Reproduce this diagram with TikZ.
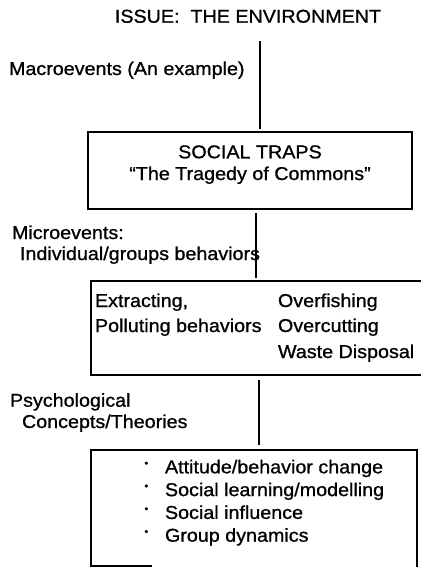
\documentclass[tikz,border=0pt]{standalone}
\usepackage{fontspec}
\setmainfont{Liberation Sans}[FakeStretch=1.06,FakeBold=0.9]
\newcommand\mybul{\makebox[20.5pt][l]{\raisebox{6.8pt}{\fontsize{10}{10}\selectfont •}}}
\begin{document}
\begin{tikzpicture}[x=1pt,y=-1pt,
  txt/.style={inner sep=0pt, outer sep=0pt, anchor=base west, font=\fontsize{18.6}{22}\selectfont},
  ctxt/.style={txt, anchor=base},
  boxn/.style={draw, line width=1.1pt, inner sep=0pt, outer sep=0pt, anchor=north west},
  conn/.style={line width=1.3pt}]
\useasboundingbox (0,0) rectangle (420,567);
\fill[white] (0,0) rectangle (420,567);

% boxes
\node[boxn, minimum width=324pt, minimum height=77pt] (box1) at (88,132) {};
\node[boxn, minimum width=334pt, minimum height=94pt] (box2) at (91,281) {};
\node[boxn, minimum width=326pt, minimum height=125pt] (box3) at (91,450) {};
\coordinate (cut) at (152,566);
\draw[line width=1.1pt] (box3.west |- cut) -- (cut);

% texts
\node[ctxt] (title) at (248,22.7) {ISSUE:\ \ THE ENVIRONMENT};
\node[txt] (macro) at (9,75) {Macroevents (An example)};
\node[ctxt] (traps) at (250,158.3) {SOCIAL TRAPS};
\node[ctxt] (tragedy) at (250,180) {“The Tragedy of Commons”};
\node[txt] (micro) at (12,239) {Microevents:};
\node[txt] (indiv) at (20,260) {Individual/groups behaviors};
\node[txt] (extr) at (95,307) {Extracting,};
\node[txt] (poll) at (95,332) {Polluting behaviors};
\node[txt] (fish) at (278,307) {Overfishing};
\node[txt] (cutt) at (278,332) {Overcutting};
\node[txt] (waste) at (278,358) {Waste Disposal};
\node[txt] (psych) at (10,406.7) {Psychological};
\node[txt] (conc) at (22,428) {Concepts/Theories};
\node[txt] (b1) at (144.5,473.3) {\mybul Attitude/behavior change};
\node[txt] (b2) at (144.5,496.1) {\mybul Social learning/modelling};
\node[txt] (b3) at (144.5,518.9) {\mybul Social influence};
\node[txt] (b4) at (144.5,541.7) {\mybul Group dynamics};

% connectors
\coordinate (x1) at (260,0);
\coordinate (x2) at (256,0);
\coordinate (x3) at (259,0);
\draw[conn, shorten <=18pt, shorten >=3.5pt] (title.south -| x1) -- (box1.north -| x1);
\draw[conn, shorten <=4pt, shorten >=3pt] (box1.south -| x2) -- (box2.north -| x2);
\draw[conn, shorten <=5pt, shorten >=5pt] (box2.south -| x3) -- (box3.north -| x3);
\end{tikzpicture}
\end{document}
